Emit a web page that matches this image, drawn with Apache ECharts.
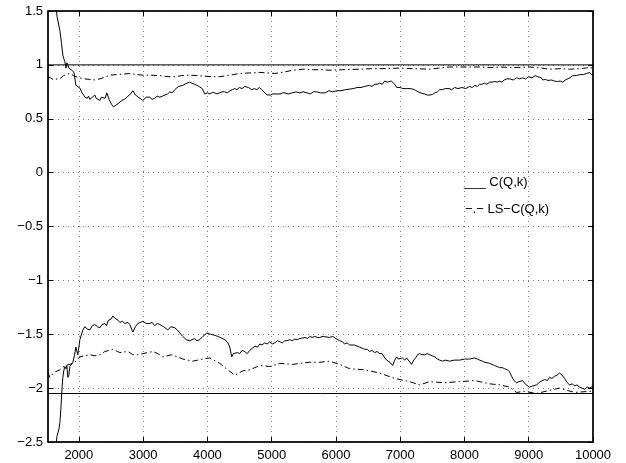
<!DOCTYPE html>
<html>
	<head>
		<meta charset="UTF-8">
		<title></title>
		<style>
			html, body { margin: 0; padding: 0; background: #fff; }
			#main { width: 626px; height: 463px; }
		</style>
	</head>
	<script src="https://cdn.jsdelivr.net/npm/echarts@6/dist/echarts.min.js"></script>
	<body>
		<div id="main"></div>
	</body>
	<script>
		// x range and tick labels
		const xMin = 1520
		const xMax = 10000
		const xTicks = [2000, 3000, 4000, 5000, 6000, 7000, 8000, 9000, 10000]

		// reference levels (solid horizontal lines)
		const refLevels = [1, -2.05]

		// C(Q,k), upper branch  [k, value]
		const cUpper = [[1620,1.8],[1660,1.45],[1705,1.32],[1730,1.2],[1751,1.09],[1765,1.06],[1782,1.03],[1800,0.97],[1815,1.02],[1829,1.0],[1845,0.97],[1860,0.96],[1875,0.98],[1891,0.95],[1910,0.94],[1925,0.93],[1940,0.94],[1953,0.81],[1970,0.82],[1984,0.80],[2016,0.785],[2050,0.74],[2075,0.72],[2093,0.70],[2130,0.69],[2150,0.71],[2171,0.68],[2210,0.70],[2249,0.72],[2270,0.69],[2290,0.68],[2327,0.67],[2350,0.70],[2380,0.71],[2410,0.69],[2435,0.74],[2470,0.68],[2513,0.63],[2540,0.61],[2560,0.62],[2610,0.64],[2640,0.65],[2669,0.67],[2710,0.68],[2750,0.70],[2800,0.73],[2840,0.76],[2870,0.73],[2900,0.71],[2950,0.69],[2995,0.67],[3050,0.70],[3104,0.70],[3140,0.68],[3180,0.69],[3220,0.71],[3260,0.70],[3300,0.71],[3340,0.72],[3380,0.73],[3415,0.75],[3450,0.74],[3493,0.77],[3550,0.80],[3580,0.79],[3617,0.81],[3680,0.83],[3726,0.84],[3760,0.83],[3800,0.82],[3840,0.81],[3882,0.795],[3920,0.78],[3960,0.73],[4000,0.74],[4040,0.73],[4080,0.745],[4115,0.74],[4150,0.73],[4190,0.74],[4230,0.75],[4270,0.75],[4310,0.74],[4350,0.76],[4390,0.77],[4426,0.78],[4460,0.77],[4500,0.79],[4540,0.78],[4582,0.80],[4610,0.81],[4640,0.79],[4690,0.77],[4730,0.78],[4770,0.77],[4810,0.79],[4846,0.77],[4880,0.75],[4908,0.73],[4940,0.72],[4980,0.72],[5020,0.73],[5048,0.72],[5090,0.73],[5130,0.73],[5170,0.74],[5204,0.74],[5260,0.73],[5320,0.74],[5380,0.75],[5437,0.74],[5490,0.75],[5550,0.74],[5600,0.73],[5650,0.75],[5700,0.75],[5760,0.74],[5830,0.74],[5890,0.76],[5950,0.75],[6010,0.76],[6080,0.76],[6150,0.77],[6215,0.775],[6270,0.78],[6330,0.79],[6390,0.79],[6448,0.80],[6520,0.81],[6560,0.80],[6603,0.82],[6640,0.82],[6680,0.83],[6720,0.82],[6759,0.85],[6800,0.84],[6830,0.84],[6860,0.85],[6884,0.86],[6915,0.82],[6946,0.79],[6975,0.80],[7000,0.79],[7040,0.78],[7070,0.785],[7100,0.78],[7130,0.77],[7165,0.78],[7194,0.79],[7220,0.77],[7250,0.76],[7280,0.75],[7303,0.74],[7340,0.735],[7380,0.73],[7420,0.72],[7459,0.72],[7500,0.725],[7540,0.74],[7580,0.75],[7614,0.77],[7660,0.77],[7700,0.78],[7760,0.78],[7800,0.77],[7848,0.79],[7900,0.78],[7960,0.79],[8020,0.78],[8081,0.80],[8120,0.79],[8160,0.81],[8200,0.80],[8236,0.82],[8270,0.82],[8310,0.83],[8350,0.82],[8392,0.84],[8430,0.84],[8470,0.845],[8510,0.84],[8547,0.85],[8580,0.84],[8620,0.86],[8660,0.87],[8700,0.87],[8760,0.86],[8812,0.88],[8860,0.87],[8900,0.88],[8950,0.87],[9000,0.89],[9050,0.88],[9100,0.90],[9140,0.89],[9170,0.906],[9195,0.88],[9216,0.86],[9260,0.865],[9300,0.855],[9350,0.86],[9400,0.85],[9450,0.845],[9490,0.85],[9527,0.84],[9570,0.86],[9600,0.87],[9640,0.88],[9683,0.90],[9740,0.90],[9800,0.91],[9850,0.91],[9900,0.92],[9947,0.93],[9975,0.91],[10000,0.905]]

		// LS-C(Q,k), upper branch
		const lsUpper = [[1518,0.89],[1560,0.88],[1610,0.86],[1660,0.87],[1705,0.87],[1760,0.90],[1800,0.91],[1860,0.92],[1920,0.90],[2000,0.88],[2093,0.87],[2171,0.865],[2249,0.86],[2327,0.87],[2400,0.885],[2482,0.905],[2600,0.91],[2700,0.915],[2793,0.92],[2900,0.91],[2995,0.905],[3100,0.905],[3260,0.90],[3400,0.89],[3493,0.89],[3600,0.90],[3726,0.905],[3850,0.90],[3960,0.895],[4100,0.89],[4193,0.89],[4300,0.90],[4400,0.91],[4504,0.92],[4650,0.925],[4815,0.93],[4940,0.925],[5048,0.92],[5200,0.935],[5328,0.95],[5500,0.96],[5650,0.955],[5800,0.955],[5903,0.95],[6100,0.955],[6370,0.96],[6550,0.965],[6700,0.965],[6992,0.97],[7200,0.965],[7458,0.96],[7600,0.97],[7769,0.98],[8000,0.98],[8236,0.98],[8400,0.975],[8547,0.98],[8750,0.975],[9013,0.98],[9200,0.97],[9324,0.96],[9500,0.965],[9636,0.96],[9800,0.965],[9947,0.975],[10000,0.97]]

		// C(Q,k), lower branch
		const cLower = [[1640,-2.6],[1658,-2.45],[1690,-2.38],[1705,-2.32],[1720,-2.20],[1736,-2.02],[1751,-1.90],[1765,-1.84],[1782,-1.80],[1800,-1.82],[1813,-1.79],[1829,-1.90],[1845,-1.88],[1860,-1.80],[1885,-1.79],[1907,-1.76],[1930,-1.70],[1953,-1.62],[1984,-1.69],[2016,-1.55],[2062,-1.46],[2093,-1.43],[2130,-1.45],[2171,-1.46],[2210,-1.42],[2249,-1.41],[2290,-1.43],[2327,-1.44],[2360,-1.41],[2404,-1.40],[2430,-1.42],[2460,-1.37],[2500,-1.36],[2529,-1.33],[2555,-1.35],[2580,-1.36],[2610,-1.37],[2638,-1.39],[2680,-1.38],[2715,-1.40],[2762,-1.39],[2793,-1.41],[2840,-1.48],[2880,-1.43],[2917,-1.40],[2960,-1.39],[2995,-1.38],[3050,-1.40],[3104,-1.40],[3140,-1.39],[3180,-1.42],[3220,-1.40],[3260,-1.41],[3320,-1.43],[3384,-1.46],[3430,-1.43],[3493,-1.44],[3530,-1.46],[3560,-1.48],[3617,-1.52],[3670,-1.55],[3700,-1.54],[3726,-1.56],[3760,-1.55],[3800,-1.54],[3840,-1.56],[3882,-1.55],[3930,-1.52],[3990,-1.49],[4050,-1.50],[4115,-1.51],[4160,-1.52],[4200,-1.53],[4270,-1.55],[4320,-1.58],[4348,-1.62],[4379,-1.71],[4405,-1.68],[4430,-1.69],[4470,-1.67],[4504,-1.68],[4540,-1.65],[4580,-1.66],[4620,-1.68],[4659,-1.65],[4700,-1.63],[4740,-1.61],[4780,-1.62],[4815,-1.59],[4850,-1.60],[4890,-1.58],[4930,-1.59],[4970,-1.57],[5010,-1.59],[5048,-1.58],[5090,-1.56],[5126,-1.57],[5170,-1.58],[5203,-1.56],[5240,-1.56],[5281,-1.55],[5320,-1.56],[5360,-1.545],[5400,-1.55],[5437,-1.54],[5480,-1.535],[5520,-1.53],[5560,-1.54],[5592,-1.52],[5630,-1.53],[5670,-1.52],[5710,-1.53],[5748,-1.53],[5800,-1.52],[5850,-1.525],[5900,-1.53],[5950,-1.52],[6000,-1.54],[6059,-1.56],[6100,-1.57],[6136,-1.59],[6175,-1.58],[6214,-1.60],[6290,-1.60],[6370,-1.62],[6410,-1.63],[6447,-1.64],[6490,-1.64],[6525,-1.66],[6560,-1.65],[6603,-1.67],[6640,-1.66],[6681,-1.68],[6720,-1.68],[6760,-1.72],[6789,-1.74],[6840,-1.76],[6883,-1.79],[6915,-1.74],[6945,-1.71],[6970,-1.73],[7000,-1.73],[7035,-1.72],[7069,-1.74],[7100,-1.72],[7130,-1.73],[7178,-1.78],[7210,-1.74],[7240,-1.72],[7270,-1.69],[7303,-1.68],[7340,-1.69],[7380,-1.69],[7420,-1.68],[7458,-1.69],[7500,-1.70],[7540,-1.71],[7580,-1.73],[7614,-1.74],[7660,-1.75],[7700,-1.74],[7769,-1.75],[7840,-1.74],[7925,-1.74],[8002,-1.73],[8080,-1.73],[8158,-1.72],[8200,-1.73],[8236,-1.74],[8280,-1.75],[8313,-1.76],[8390,-1.77],[8469,-1.79],[8510,-1.80],[8547,-1.81],[8590,-1.81],[8624,-1.82],[8670,-1.83],[8702,-1.85],[8733,-1.89],[8770,-1.93],[8811,-1.95],[8850,-1.94],[8904,-1.93],[8930,-1.95],[8960,-1.97],[9013,-1.99],[9060,-1.98],[9122,-1.97],[9180,-1.94],[9247,-1.92],[9290,-1.93],[9324,-1.90],[9360,-1.91],[9402,-1.89],[9440,-1.88],[9480,-1.86],[9520,-1.88],[9558,-1.91],[9600,-1.95],[9636,-1.97],[9680,-1.96],[9713,-1.98],[9750,-1.97],[9791,-1.99],[9830,-2.00],[9870,-2.01],[9910,-1.99],[9947,-2.00],[9975,-2.01],[10000,-1.98]]

		// LS-C(Q,k), lower branch
		const lsLower = [[1518,-1.85],[1549,-1.90],[1590,-1.87],[1627,-1.85],[1705,-1.83],[1782,-1.79],[1860,-1.78],[1938,-1.76],[2016,-1.71],[2093,-1.70],[2171,-1.69],[2249,-1.70],[2327,-1.69],[2404,-1.66],[2470,-1.65],[2529,-1.64],[2600,-1.66],[2638,-1.67],[2762,-1.66],[2840,-1.69],[2917,-1.69],[2995,-1.68],[3151,-1.66],[3230,-1.68],[3306,-1.71],[3446,-1.69],[3617,-1.73],[3773,-1.75],[3928,-1.73],[4037,-1.72],[4193,-1.77],[4317,-1.83],[4426,-1.88],[4550,-1.84],[4659,-1.83],[4815,-1.79],[4970,-1.80],[5126,-1.77],[5328,-1.78],[5437,-1.77],[5592,-1.76],[5748,-1.76],[5903,-1.75],[6059,-1.78],[6214,-1.82],[6447,-1.83],[6681,-1.86],[6914,-1.91],[7147,-1.94],[7303,-1.97],[7458,-1.94],[7691,-1.95],[7925,-1.94],[8158,-1.93],[8391,-1.96],[8547,-1.97],[8702,-1.99],[8811,-2.04],[8935,-2.03],[9122,-2.05],[9324,-2.02],[9480,-2.00],[9713,-2.04],[9947,-2.03],[10000,-2.03]]

		const myChart = echarts.init(document.getElementById('main'))

		const FONT = '"Liberation Sans", Arial, sans-serif'
		const dashDot = [6, 3, 1.5, 3]
		const gridDots = { color: '#777', type: [1, 4], width: 1 }

		function minus (v) {
			return String(v).replace('-', '\u2212')
		}

		function lineSeries (data, type) {
			return {
				type: 'line',
				data: data,
				showSymbol: false,
				symbol: 'none',
				clip: true,
				silent: true,
				animation: false,
				lineStyle: { color: '#000', width: 1, type: type }
			}
		}

		const series = [
			lineSeries(cUpper, 'solid'),
			lineSeries(lsUpper, dashDot),
			lineSeries(cLower, 'solid'),
			lineSeries(lsLower, dashDot)
		]
		refLevels.forEach(function (v) {
			series.push(lineSeries([[xMin, v], [xMax, v]], 'solid'))
		})

		const baseX = {
			type: 'value',
			min: xMin,
			max: xMax,
			axisLine: { onZero: false, lineStyle: { color: '#000', width: 1.5 } },
			axisTick: { inside: true, length: 5, customValues: xTicks, lineStyle: { color: '#000' } }
		}
		const baseY = {
			type: 'value',
			min: -2.5,
			max: 1.5,
			interval: 0.5,
			axisLine: { onZero: false, lineStyle: { color: '#000', width: 1.5 } },
			axisTick: { inside: true, length: 5, lineStyle: { color: '#000' } }
		}

		const option = {
			animation: false,
			backgroundColor: '#fff',
			grid: { left: 48, right: 33, top: 11, bottom: 21, containLabel: false, show: true, borderColor: '#000', borderWidth: 1 },
			xAxis: [
				Object.assign({}, baseX, {
					position: 'bottom',
					axisLabel: { customValues: xTicks, color: '#000', fontSize: 13, fontFamily: FONT, margin: 7, formatter: function (v) { return String(v) } },
					splitLine: { show: true, lineStyle: gridDots }
				}),
				Object.assign({}, baseX, {
					position: 'top',
					axisLabel: { show: false },
					splitLine: { show: false }
				})
			],
			yAxis: [
				Object.assign({}, baseY, {
					position: 'left',
					axisLabel: { color: '#000', fontSize: 13, fontFamily: FONT, margin: 5, formatter: minus },
					splitLine: { show: true, lineStyle: gridDots }
				}),
				Object.assign({}, baseY, {
					position: 'right',
					axisLabel: { show: false },
					splitLine: { show: false }
				})
			],
			series: series,
			graphic: [
				{
					type: 'text', left: 464, top: 176, silent: true,
					style: { text: '___ C(Q,k)', fill: '#000', font: '13px ' + FONT }
				},
				{
					type: 'text', left: 465, top: 203, silent: true,
					style: { text: '\u2212.\u2212 LS\u2212C(Q,k)', fill: '#000', font: '13px ' + FONT }
				}
			]
		}

		myChart.setOption(option)
	</script>
</html>
